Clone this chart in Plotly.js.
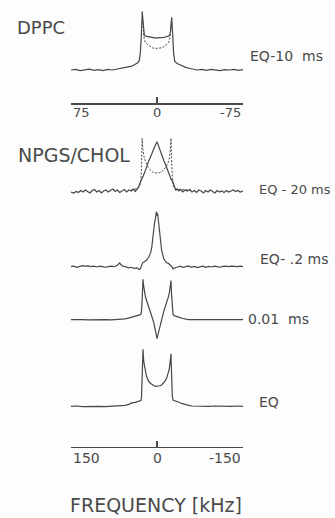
<!DOCTYPE html>
<html>
<head>
<meta charset="utf-8">
<script src="https://cdn.plot.ly/plotly-3.0.1.min.js"></script>
<style>
  html, body { margin: 0; padding: 0; background: #fdfdfd; }
  #chart { width: 335px; height: 518px; }
</style>
</head>
<body>
<div id="chart"></div>
<script>
// ---------- DATA (frequency in kHz, intensity normalised: baseline 0, tallest peak 1) ----------
const topTickVals = [75, 0, -75];
const topTickText = ["75", "0", "-75"];
const bottomTickVals = [150, 0, -150];
const bottomTickText = ["150", "0", "-150"];

const spectrumLabels = ["EQ-10\u00a0\u00a0ms", "EQ - 20 ms", "EQ- .2 ms", "0.01\u00a0\u00a0ms", "EQ"];
const panelLabels = ["DPPC", "NPGS/CHOL"];
const axisTitle = "FREQUENCY [kHz]";

// DPPC, EQ-10 ms (solid)
const dppcFreq = [75,71,67,63,59,55,51,47,43,39,35,31,28,25,22,19,17,15.5,14.5,13.8,13.2,12.8,12.3,11.7,11,10,8,6,4,2,0,-2,-4,-6,-8,-10,-11,-11.7,-12.3,-12.8,-13.2,-13.8,-14.5,-15.5,-17,-19,-22,-25,-28,-31,-35,-39,-43,-47,-51,-55,-59,-63,-67,-71,-75];
const dppcInt  = [0,0.01,-0.01,0,0.015,-0.005,0.005,-0.01,0.01,0,0.015,0.02,0.03,0.045,0.065,0.10,0.12,0.16,0.30,0.55,0.85,1.0,0.85,0.68,0.6,0.58,0.57,0.56,0.555,0.55,0.55,0.55,0.555,0.56,0.57,0.58,0.6,0.66,0.8,0.9,0.78,0.5,0.28,0.15,0.12,0.10,0.065,0.045,0.03,0.015,0,0.01,-0.005,0.01,0,-0.01,0.005,0,0.01,-0.005,0.005];
// DPPC, EQ-10 ms (dashed, inner part)
const dppcDashFreq = [12.8,12.3,11.7,11,10,8,6,4,2,0,-2,-4,-6,-8,-10,-11,-11.7,-12.3,-12.8];
const dppcDashInt  = [1.0,0.78,0.6,0.52,0.47,0.43,0.40,0.38,0.37,0.37,0.37,0.38,0.40,0.43,0.47,0.52,0.6,0.72,0.9];

// NPGS/CHOL, EQ-20 ms (solid, noisy)
const eq20Freq = [150,145,141,137,133,129,125,121,117,113,109,105,101,97,93,89,85,81,77,73,69,65,61,57,53,49,45,41,38,35,33,31,29,27,24,21,18,15,12,9,6,3,1,0,-1,-3,-6,-9,-12,-15,-18,-21,-23,-25,-27,-29,-31,-33,-35,-38,-41,-45,-49,-53,-57,-61,-65,-69,-73,-77,-81,-85,-89,-93,-97,-101,-105,-109,-113,-117,-121,-125,-129,-133,-137,-141,-145,-150];
const eq20Int  = [0,-0.02,0.01,-0.01,0.03,0,0.04,0.01,-0.02,0.03,0.05,0,0.03,-0.02,0.02,0.04,0,0.03,0.06,0.01,0.04,-0.01,0.03,0.05,0,0.04,0.02,0.06,0.01,0.05,0.08,0.14,0.18,0.25,0.32,0.40,0.50,0.60,0.67,0.76,0.85,0.92,0.98,1.0,0.97,0.9,0.8,0.72,0.62,0.54,0.45,0.34,0.26,0.24,0.22,0.16,0.08,0.03,0.06,0.02,0.05,0,0.04,0.02,0.05,0,0.03,-0.01,0.04,0.02,-0.02,0.03,0,0.04,0.01,-0.02,0.03,0,0.02,-0.01,0.03,0,0.02,0.04,0.01,0.03,0,0.02];
// NPGS/CHOL, EQ-20 ms (dashed)
const eq20DashFreq = [45,38,33,30,28,27,26.5,26,25,23,20,16,12,8,4,0,-4,-8,-12,-16,-20,-22,-23.5,-24.5,-25,-25.5,-27,-29,-33,-40,-50,-60];
const eq20DashInt  = [0.04,0.05,0.07,0.12,0.25,0.5,0.8,1.07,0.9,0.72,0.6,0.5,0.44,0.40,0.38,0.38,0.38,0.40,0.44,0.5,0.6,0.7,0.86,1.07,0.8,0.5,0.22,0.1,0.06,0.05,0.04,0.04];

// NPGS/CHOL, EQ-.2 ms
const eq02Freq = [150,145,140,135,130,125,120,115,110,105,100,95,90,85,80,75,70,67,65,63,60,55,50,45,40,35,31,29,27,25,22,18,14,11,9,7.5,6,4.5,3,2,1,0,-1,-2,-3,-4.5,-6,-8,-10,-12,-14,-17,-20,-23,-26,-28,-31,-35,-40,-45,-50,-55,-60,-65,-70,-75,-80,-85,-90,-95,-100,-105,-110,-115,-120,-125,-130,-135,-140,-145,-150];
const eq02Int  = [0,0.01,-0.01,0,0.02,0.01,0.015,0,0.01,-0.005,0.01,0,-0.01,0,0.01,0,0.02,0.05,0.07,0.04,0.01,0,-0.02,-0.01,-0.03,-0.02,-0.05,-0.04,0.04,0.07,0.09,0.12,0.18,0.26,0.36,0.55,0.68,0.78,0.86,0.95,1.0,0.93,0.97,0.88,0.8,0.7,0.5,0.3,0.2,0.14,0.11,0.07,0.06,0.03,0,-0.04,-0.02,-0.01,0.01,-0.01,0,0.015,-0.01,0.005,-0.015,0,0.01,-0.01,0.005,-0.005,0.01,0,-0.01,0.005,0.01,0,0.01,0.005,0,0.01,0];

// NPGS/CHOL, 0.01 ms
const t001Freq = [150,140,130,120,110,100,90,80,70,62,56,50,44,38,33,30,28,27,26,25,24.4,23.5,22,20,18,15,12,9,6,3.5,1.5,0,-1.5,-3.5,-6,-9,-12,-15,-18,-20,-22,-23.5,-24.4,-25.5,-26.5,-28,-30,-35,-40,-45,-55,-65,-75,-85,-95,-105,-115,-125,-135,-145,-150];
const t001Int  = [0,0.005,0,-0.005,0,0.005,0,-0.005,0,0,0.02,0.04,0.06,0.08,0.1,0.12,0.14,0.22,0.45,0.75,1.0,0.85,0.68,0.56,0.47,0.35,0.22,0.1,-0.05,-0.22,-0.38,-0.47,-0.38,-0.26,-0.1,0.07,0.22,0.35,0.47,0.57,0.7,0.86,0.97,0.6,0.3,0.13,0.1,0.07,0.05,0.03,0,-0.005,0,0.005,0,-0.005,0,0.005,0,0,0];

// NPGS/CHOL, EQ
const eqFreq = [150,140,130,120,110,100,90,80,70,62,56,50,44,38,33,30,28,27,26.2,25.5,24.8,24.4,23.7,23,22,21,19,17,14,11,8,5,2,0,-2,-5,-8,-11,-14,-17,-19,-21,-22,-23,-23.7,-24.4,-25,-25.8,-26.7,-28,-30,-33,-37,-43,-49,-55,-61,-70,-80,-90,-100,-110,-120,-130,-140,-150];
const eqInt  = [0,0.005,-0.005,0,0.005,0,-0.005,0,0.005,0.01,0.015,0.03,0.06,0.07,0.08,0.09,0.1,0.16,0.35,0.6,0.88,1.0,0.88,0.78,0.7,0.64,0.56,0.49,0.43,0.4,0.375,0.36,0.35,0.35,0.35,0.36,0.375,0.4,0.44,0.5,0.56,0.64,0.7,0.78,0.86,0.92,0.7,0.4,0.18,0.11,0.1,0.09,0.075,0.05,0.03,0.015,0.005,0,-0.005,0,0.005,0,-0.005,0,0.005,0];

// ---------- LAYOUT HELPERS (pixel geometry of the figure) ----------
const W = 335, H = 518;
const fx = px => px / W;
const fy = py => 1 - py / H;
const xDom = [fx(71), fx(243)];
// baseline pixel, unit-height pixel, value range
function yAxis(base, peak, r, anchor) {
  const s = base - peak;
  const pb = base - r[0] * s, pt = base - r[1] * s;
  return { domain: [fy(pb), fy(pt)], range: r, visible: false, fixedrange: true, anchor: anchor };
}
const lineCol = "#474747";
const solid = { color: lineCol, width: 1.2, shape: "linear" };
const dashed = { color: lineCol, width: 1.0, dash: "2px,1.6px" };

const traces = [
  { x: dppcFreq, y: dppcInt, xaxis: "x", yaxis: "y", mode: "lines", line: solid },
  { x: dppcDashFreq, y: dppcDashInt, xaxis: "x", yaxis: "y", mode: "lines", line: dashed },
  { x: eq20DashFreq, y: eq20DashInt, xaxis: "x2", yaxis: "y2", mode: "lines", line: dashed },
  { x: eq20Freq, y: eq20Int, xaxis: "x2", yaxis: "y2", mode: "lines", line: solid },
  { x: eq02Freq, y: eq02Int, xaxis: "x2", yaxis: "y3", mode: "lines", line: solid },
  { x: t001Freq, y: t001Int, xaxis: "x2", yaxis: "y4", mode: "lines", line: solid },
  { x: eqFreq, y: eqInt, xaxis: "x2", yaxis: "y5", mode: "lines", line: solid }
];

const font = "DejaVu Sans, sans-serif";
const txtCol = "#4a4a4a";
function xAx(range, ticks, posPx) {
  return {
    domain: xDom, range: range, autorange: false, fixedrange: true,
    anchor: "free", position: fy(posPx),
    showgrid: false, zeroline: false, showline: true, linecolor: "#4a4a4a", linewidth: 1.3,
    tickmode: "array", tickvals: ticks, ticks: "inside", ticklen: 6, tickwidth: 1.3, tickcolor: "#4a4a4a",
    showticklabels: false
  };
}

const ann = [];
function label(text, xpx, ypx, size, anchor) {
  ann.push({ text: text, xref: "paper", yref: "paper", x: fx(xpx), y: fy(ypx),
    xanchor: anchor || "left", yanchor: "middle", showarrow: false,
    font: { family: font, size: size, color: txtCol } });
}
function tickLabels(vals, texts, xref, ypx, size) {
  vals.forEach((v, i) => {
    ann.push({ text: texts[i], xref: xref, yref: "paper", x: v, y: fy(ypx),
      xanchor: i === 0 ? "left" : (i === vals.length - 1 ? "right" : "center"),
      yanchor: "middle", showarrow: false, font: { family: font, size: size, color: txtCol } });
  });
}
label(panelLabels[0], 15, 27.5, 18);
label(panelLabels[1], 16, 155, 19);
label(spectrumLabels[0], 248, 56.5, 14);
label(spectrumLabels[1], 257, 190, 13);
label(spectrumLabels[2], 258, 258.5, 14);
label(spectrumLabels[3], 246, 318.5, 14);
label(spectrumLabels[4], 257, 401.5, 14);
label(axisTitle, 156, 505, 19, "center");
tickLabels(topTickVals, topTickText, "x", 112.5, 13);
tickLabels(bottomTickVals, bottomTickText, "x2", 457.5, 14);

const layout = {
  width: W, height: H,
  margin: { l: 0, r: 0, t: 0, b: 0, pad: 0 },
  paper_bgcolor: "#fdfdfd", plot_bgcolor: "rgba(0,0,0,0)",
  showlegend: false,
  xaxis: xAx([75, -75], topTickVals, 103.3),
  xaxis2: xAx([150, -150], bottomTickVals, 446.7),
  yaxis:  yAxis(70, 11.7, [-0.15, 1.1], "x"),
  yaxis2: yAxis(192, 141.7, [-0.15, 1.15], "x2"),
  yaxis3: yAxis(266.7, 211.7, [-0.15, 1.1], "x2"),
  yaxis4: yAxis(319.7, 279.3, [-0.6, 1.1], "x2"),
  yaxis5: yAxis(406.3, 349.3, [-0.15, 1.1], "x2"),
  annotations: ann
};

Plotly.newPlot("chart", traces, layout, { staticPlot: true, displayModeBar: false });
</script>
</body>
</html>
